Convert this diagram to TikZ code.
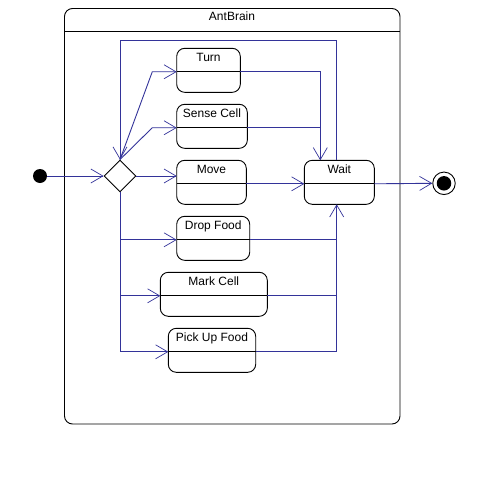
\documentclass[tikz,border=0pt]{standalone}
\usepackage{fontspec}
\setmainfont{Liberation Sans}
\usetikzlibrary{arrows.meta,shapes.geometric,calc}
\definecolor{flowblue}{RGB}{51,51,153}
\tikzset{
  stbox/.style={draw=black, line width=0.9pt, rounded corners=8pt, minimum height=44pt,
    inner sep=0pt, outer sep=0pt, fill=white},
  lbl/.style={anchor=base, inner sep=0pt, font=\fontsize{12}{14}\selectfont},
  flow/.style={draw=flowblue, line width=0.9pt},
  arr/.style={flow, -{Straight Barb[length=12pt,width=14pt,line width=0.7pt]}},
}
% state box: name, left x, top y, width, title
\newcommand\stbox[5]{%
  \node[stbox, minimum width=#4pt, anchor=north west] (#1) at (#2,#3) {};
  \coordinate (#1-l) at ($(#1.west)+(0,1.5)$);
  \coordinate (#1-r) at ($(#1.east)+(0,1.5)$);
  \draw[line width=0.9pt] (#1-l) -- (#1-r);
  \node[lbl] at ($(#1.north)+(0,13)$) {#5};
}
\begin{document}
\begin{tikzpicture}[x=1pt,y=-1pt]
  \useasboundingbox (0,0) rectangle (488,480);
  % composite state
  \draw[line width=0.9pt, rounded corners=8pt] (64.5,8.5) rectangle (400,424);
  \draw[line width=0.9pt] (64.5,31.7) -- (400,31.7);
  \node[lbl] (title) at (232,20.5) {AntBrain};

  % pseudo states
  \node[circle, fill=black, minimum size=14pt, inner sep=0pt] (init) at (40,176) {};
  \node[diamond, draw=black, line width=0.9pt, minimum width=32pt, minimum height=32pt,
        inner sep=0pt, fill=white] (dia) at (120,176) {};
  \node[circle, draw=black, line width=0.9pt, minimum size=22.5pt, inner sep=0pt] (fin) at (444,183.3) {};
  \node[circle, fill=black, minimum size=14.5pt, inner sep=0pt] (finin) at (444,183.3) {};

  % states
  \stbox{turn}{176.7}{48.3}{63.6}{Turn}
  \stbox{sense}{176.7}{104.3}{70.6}{Sense Cell}
  \stbox{move}{176.7}{160.3}{69.6}{Move}
  \stbox{drop}{176.7}{216.3}{73}{Drop Food}
  \stbox{mark}{160.3}{272.3}{107}{Mark Cell}
  \stbox{pick}{168.3}{328.3}{87.4}{Pick Up Food}
  \stbox{wait}{304.3}{160.3}{70}{Wait}

  \coordinate (jl) at (320.3,0);
  \coordinate (jr) at (336.7,0);

  % transitions
  \draw[arr] (init) -- (dia.west);
  \draw[arr] (dia.north) -- (152.3,71.7) -- (turn-l);
  \draw[arr] (dia.north) -- (152.3,127.7) -- (sense-l);
  \draw[arr] (dia.east) -- (dia.east -| move.west);
  \draw[arr] (dia.south) |- (pick-l);
  \draw[arr] (dia.south |- drop-l) -- (drop-l);
  \draw[arr] (dia.south |- mark-l) -- (mark-l);

  \draw[arr] (turn-r) -| (wait.north -| jl);
  \draw[flow] (sense-r) -- (sense-r -| jl);
  \draw[arr] (move-r) -- (wait-l);
  \draw[arr] (pick-r) -| (wait.south -| jr);
  \draw[flow] (drop-r) -- (drop-r -| jr);
  \draw[flow] (mark-r) -- (mark-r -| jr);
  \draw[arr] (wait.north -| jr) -- (336.7,40.7) -- (120,40.7) -- (dia.north);
  \draw[arr] (wait-r) -- (fin.west);
\end{tikzpicture}
\end{document}
